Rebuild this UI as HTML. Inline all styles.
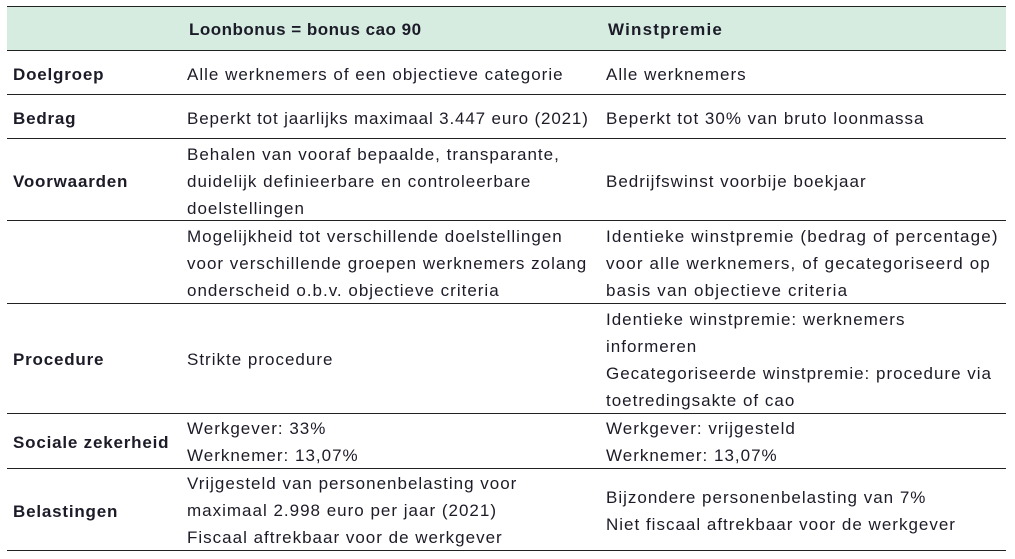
<!DOCTYPE html>
<html><head><meta charset="utf-8"><style>
html,body{margin:0;padding:0;background:#fff;}
body{width:1015px;height:559px;position:relative;overflow:hidden;font-family:"Liberation Sans",sans-serif;color:#1c1c28;font-size:17px;letter-spacing:1px;}
.hdr{position:absolute;left:7px;top:6px;width:999px;height:44px;background:#d6ece1;}
.ln{position:absolute;left:7px;width:999px;height:1.4px;background:#222;}
.t{position:absolute;line-height:27px;white-space:nowrap;}
.b{font-weight:bold;letter-spacing:0.8px;}
</style></head><body>
<div class="hdr"></div>
<div class="ln" style="top:5.5px"></div>
<div class="ln" style="top:49.5px"></div>
<div class="ln" style="top:93.5px"></div>
<div class="ln" style="top:137.5px"></div>
<div class="ln" style="top:219.5px"></div>
<div class="ln" style="top:302.5px"></div>
<div class="ln" style="top:412.5px"></div>
<div class="ln" style="top:467.5px"></div>
<div class="ln" style="top:549.5px"></div>

<div class="t b" style="left:189px;top:16px;letter-spacing:0.5px">Loonbonus = bonus cao 90</div>
<div class="t b" style="left:608px;top:16px;letter-spacing:1.2px">Winstpremie</div>

<div class="t b" style="left:13px;top:61px">Doelgroep</div>
<div class="t" style="left:187px;top:61px">Alle werknemers of een objectieve categorie</div>
<div class="t" style="left:606px;top:61px">Alle werknemers</div>

<div class="t b" style="left:13px;top:105px">Bedrag</div>
<div class="t" style="left:187px;top:105px;letter-spacing:0.85px">Beperkt tot jaarlijks maximaal 3.447 euro (2021)</div>
<div class="t" style="left:606px;top:105px">Beperkt tot 30% van bruto loonmassa</div>

<div class="t b" style="left:13px;top:168px">Voorwaarden</div>
<div class="t" style="left:187px;top:141px">Behalen van vooraf bepaalde, transparante,<br>duidelijk definieerbare en controleerbare<br>doelstellingen</div>
<div class="t" style="left:606px;top:168px">Bedrijfswinst voorbije boekjaar</div>

<div class="t" style="left:187px;top:223px">Mogelijkheid tot verschillende doelstellingen<br>voor verschillende groepen werknemers zolang<br>onderscheid o.b.v. objectieve criteria</div>
<div class="t" style="left:606px;top:223px;letter-spacing:1.15px">Identieke winstpremie (bedrag of percentage)<br>voor alle werknemers, of gecategoriseerd op<br>basis van objectieve criteria</div>

<div class="t b" style="left:13px;top:346px">Procedure</div>
<div class="t" style="left:187px;top:346px">Strikte procedure</div>
<div class="t" style="left:606px;top:306px">Identieke winstpremie: werknemers<br>informeren<br>Gecategoriseerde winstpremie: procedure via<br>toetredingsakte of cao</div>

<div class="t b" style="left:13px;top:429px">Sociale zekerheid</div>
<div class="t" style="left:187px;top:415px">Werkgever: 33%<br>Werknemer: 13,07%</div>
<div class="t" style="left:606px;top:415px">Werkgever: vrijgesteld<br>Werknemer: 13,07%</div>

<div class="t b" style="left:13px;top:498px">Belastingen</div>
<div class="t" style="left:187px;top:470px">Vrijgesteld van personenbelasting voor<br>maximaal 2.998 euro per jaar (2021)<br>Fiscaal aftrekbaar voor de werkgever</div>
<div class="t" style="left:606px;top:484px">Bijzondere personenbelasting van 7%<br>Niet fiscaal aftrekbaar voor de werkgever</div>
</body></html>
